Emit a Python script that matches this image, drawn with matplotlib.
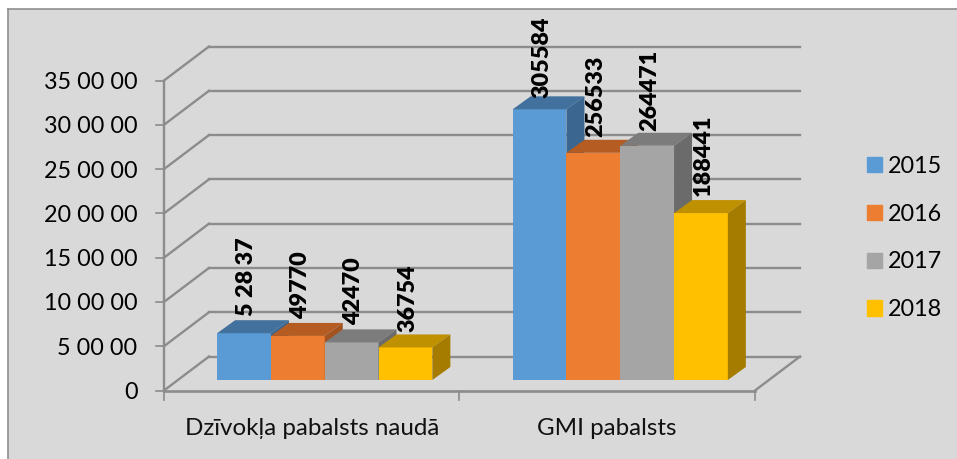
import numpy as np
import matplotlib
matplotlib.use("Agg")
import matplotlib.pyplot as plt
from matplotlib.patches import Polygon, Patch

plt.rcParams['font.family'] = ['Lato', 'DejaVu Sans']

categories = ["Dzīvokļa pabalsts naudā", "GMI pabalsts"]
years = ["2015", "2016", "2017", "2018"]
values_2015 = [528370, 3055840]
values_2016 = [497700, 2565330]
values_2017 = [424700, 2644710]
values_2018 = [367540, 1884410]
labels_2015 = ["5 28 37", "305584"]
labels_2016 = ["49770", "256533"]
labels_2017 = ["42470", "264471"]
labels_2018 = ["36754", "188441"]
yticks = [0, 500000, 1000000, 1500000, 2000000, 2500000, 3000000, 3500000]
ytick_labels = ["0", "5 00 00", "10 00 00", "15 00 00", "20 00 00", "25 00 00", "30 00 00", "35 00 00"]

front_cols = ["#5B9BD5", "#ED7D31", "#A5A5A5", "#FFC000"]
top_cols = ["#41719C", "#B45C22", "#7C7C7C", "#BF9000"]
side_cols = ["#3A6690", "#A3531F", "#6B6B6B", "#A67C00"]
grid_col = "#8C8C8C"

W, H = 957, 459
fig = plt.figure(figsize=(W / 100, H / 100), dpi=100, facecolor="white")

# grey chart area with its border
bg = fig.add_axes([8 / W, 0, 1 - 8 / W, 1 - 9 / H])
bg.set_facecolor("#D9D9D9")
bg.set_xticks([])
bg.set_yticks([])
for s in ["left", "top"]:
    bg.spines[s].set_color("#8F8F8F")
    bg.spines[s].set_linewidth(1.2)
for s in ["right", "bottom"]:
    bg.spines[s].set_visible(False)

# front plane of the 3d box
x0, x1, y0, y1 = 164, 755, 390.5, 80.5
ax = fig.add_axes([x0 / W, (H - y0) / H, (x1 - x0) / W, (y0 - y1) / H])
ax.patch.set_alpha(0)
ax.set_xlim(0, 2)
ax.set_ylim(0, 3500000)
for s in ax.spines.values():
    s.set_visible(False)

px_x = 2 / (x1 - x0)
px_y = 3500000 / (y0 - y1)


def shift(dx, dy):
    return dx * px_x, dy * px_y


# walls
wall_dx, wall_dy = shift(45, 34)
for v in yticks:
    ax.plot([0, wall_dx], [v, v + wall_dy], color=grid_col, lw=1.7, clip_on=False, zorder=1)
    ax.plot([wall_dx, 2 + wall_dx], [v + wall_dy, v + wall_dy], color=grid_col, lw=1.7, clip_on=False, zorder=1)
    ax.plot([-8 * px_x, 0], [v, v], color=grid_col, lw=1.2, clip_on=False, zorder=1)
ax.plot([0, 0], [0, 3500000], color=grid_col, lw=1.7, clip_on=False, zorder=1)
ax.plot([0, 2], [0, 0], color=grid_col, lw=1.9, clip_on=False, zorder=1)
ax.plot([2, 2 + wall_dx], [0, wall_dy], color=grid_col, lw=1.7, clip_on=False, zorder=1)

ax.set_yticks(yticks)
ax.set_yticklabels(ytick_labels, fontsize=16.8, color="black")
ax.tick_params(axis="y", length=0, pad=19)
ax.set_xticks([0.5, 1.5])
ax.set_xticklabels(categories, fontsize=17.4, color="#111111")
ax.tick_params(axis="x", length=0, pad=19.5)
for xt in [0, 1, 2]:
    ax.plot([xt, xt], [0, -9 * px_y], color=grid_col, lw=1.2, clip_on=False, zorder=1)

# bars sit a little way into the floor
base_dx, base_dy = shift(13, 10.5)
depth_dx, depth_dy = shift(18, 13)
bar_w = 53.8 / (x1 - x0) * 2

all_values = [values_2015, values_2016, values_2017, values_2018]
all_labels = [labels_2015, labels_2016, labels_2017, labels_2018]
label_gaps = [[17, 11], [17, 16], [17, 15], [15, 17]]
for c in range(len(categories)):
    for i in range(4):
        val = all_values[i][c]
        left = c + 0.5 + (i - 2) * bar_w + base_dx
        top = base_dy + val
        z = 3 + c * 10 + i
        ax.bar(left, val, width=bar_w, bottom=base_dy, align="edge", color=front_cols[i], zorder=z, clip_on=False)
        ax.add_patch(Polygon([(left, top), (left + bar_w, top), (left + bar_w + depth_dx, top + depth_dy),
                              (left + depth_dx, top + depth_dy)], color=top_cols[i], lw=0, zorder=z, clip_on=False))
        ax.add_patch(Polygon([(left + bar_w, base_dy), (left + bar_w + depth_dx, base_dy + depth_dy),
                              (left + bar_w + depth_dx, top + depth_dy), (left + bar_w, top)],
                             color=side_cols[i], lw=0, zorder=z, clip_on=False))

for c in range(len(categories)):
    for i in range(4):
        val = all_values[i][c]
        left = c + 0.5 + (i - 2) * bar_w + base_dx
        ax.annotate(all_labels[i][c], (left + bar_w / 2, base_dy + val), xytext=(1.7, label_gaps[i][c] * 0.72),
                    textcoords="offset points", rotation=90, ha="center", va="bottom", fontsize=16.8,
                    fontweight="heavy", color="black", zorder=60, annotation_clip=False)

handles = [Patch(color=front_cols[i], label=years[i]) for i in range(4)]
fig.legend(handles=handles, loc="center left", bbox_to_anchor=(867 / W, (H - 238) / H), frameon=False,
           fontsize=16.8, handlelength=0.64, handleheight=0.64, handletextpad=0.26, labelspacing=1.15,
           borderpad=0, borderaxespad=0)

fig.savefig("out.png", dpi=100, facecolor="white")
